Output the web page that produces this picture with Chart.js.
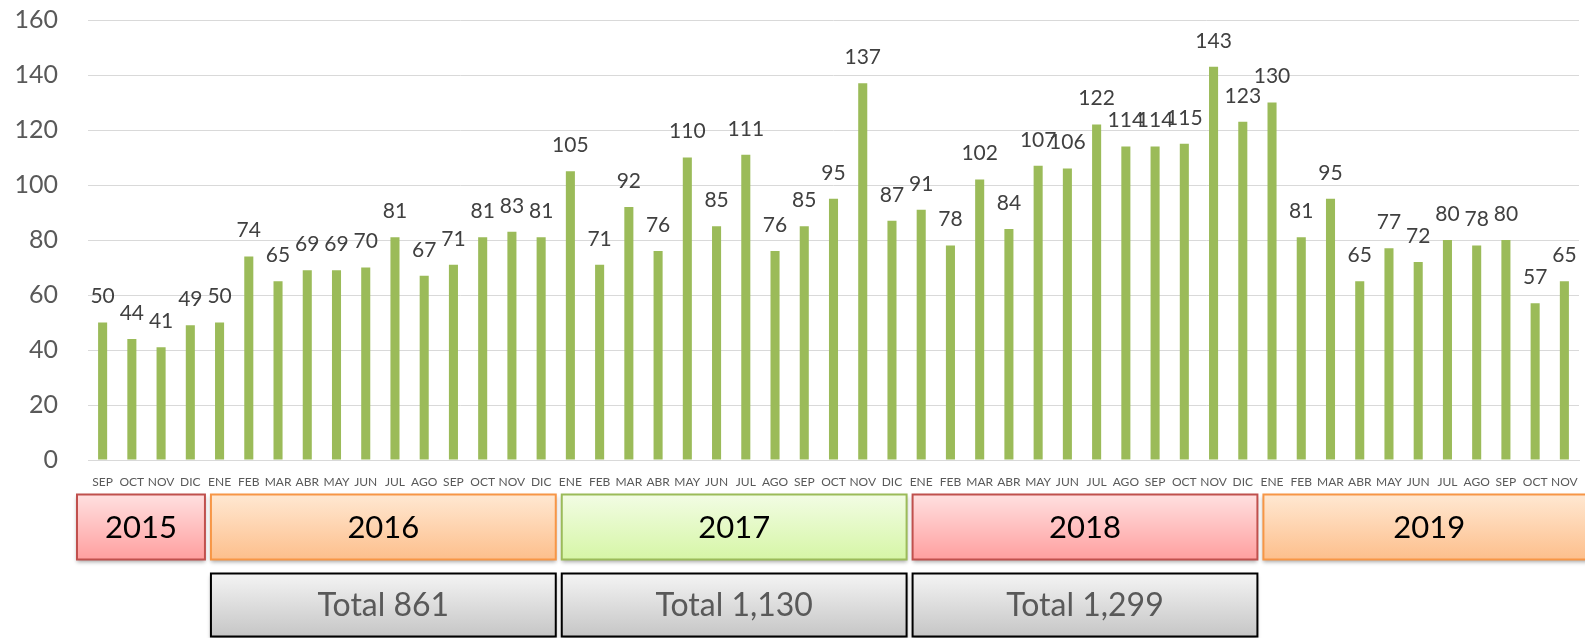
<!DOCTYPE html>
<html>
<head>
<meta charset="utf-8">
<script src="https://cdn.jsdelivr.net/npm/chart.js@4/dist/chart.umd.min.js"></script>
<style>
  html, body { margin: 0; padding: 0; background: #fff; }
  #wrap { width: 1585px; height: 638px; position: relative; }
</style>
</head>
<body>
<div id="wrap"><canvas id="chart" width="1585" height="638"></canvas></div>
<script>
  // month labels, Sep 2015 .. Nov 2019
  var months = [
    "SEP", "OCT", "NOV", "DIC",
    "ENE", "FEB", "MAR", "ABR", "MAY", "JUN", "JUL", "AGO", "SEP", "OCT", "NOV", "DIC",
    "ENE", "FEB", "MAR", "ABR", "MAY", "JUN", "JUL", "AGO", "SEP", "OCT", "NOV", "DIC",
    "ENE", "FEB", "MAR", "ABR", "MAY", "JUN", "JUL", "AGO", "SEP", "OCT", "NOV", "DIC",
    "ENE", "FEB", "MAR", "ABR", "MAY", "JUN", "JUL", "AGO", "SEP", "OCT", "NOV"
  ];
  var values = [
    50, 44, 41, 49,
    50, 74, 65, 69, 69, 70, 81, 67, 71, 81, 83, 81,
    105, 71, 92, 76, 110, 85, 111, 76, 85, 95, 137, 87,
    91, 78, 102, 84, 107, 106, 122, 114, 114, 115, 143, 123,
    130, 81, 95, 65, 77, 72, 80, 78, 80, 57, 65
  ];
  var yTicks = [0, 20, 40, 60, 80, 100, 120, 140, 160];
  var years = ["2015", "2016", "2017", "2018", "2019"];
  var monthsPerYear = [4, 12, 12, 12, 11];
  var yearTotals = [null, "Total 861", "Total 1,130", "Total 1,299", null];

  var FONT = "Lato, 'Open Sans', sans-serif";
  var GREEN = "#9bbb59";

  var YEAR_STYLE = [
    { top: "#ffe0e0", bottom: "#ff9f9f", border: "#c0504d" },
    { top: "#ffe8d2", bottom: "#fdbf8c", border: "#f79646" },
    { top: "#f2fce4", bottom: "#d6f6a6", border: "#9bbb59" },
    { top: "#ffe0e0", bottom: "#ff9f9f", border: "#c0504d" },
    { top: "#ffe8d2", bottom: "#fdbf8c", border: "#f79646" }
  ];

  var valueLabels = {
    id: "valueLabels",
    afterDatasetsDraw: function (chart) {
      var ctx = chart.ctx;
      var meta = chart.getDatasetMeta(0);
      ctx.save();
      ctx.font = "21px " + FONT;
      ctx.fillStyle = "#404040";
      ctx.textAlign = "center";
      ctx.textBaseline = "middle";
      meta.data.forEach(function (bar, i) {
        ctx.fillText(String(values[i]), bar.x, bar.y - 26);
      });
      ctx.restore();
    }
  };

  function drawBox(ctx, x0, x1, y0, y1, top, bottom, border, lw, text, textColor, font) {
    ctx.save();
    var g = ctx.createLinearGradient(0, y0, 0, y1);
    g.addColorStop(0, top);
    g.addColorStop(1, bottom);
    ctx.shadowColor = "rgba(0,0,0,0.35)";
    ctx.shadowBlur = 4;
    ctx.shadowOffsetY = 2;
    ctx.fillStyle = g;
    ctx.fillRect(x0, y0, x1 - x0, y1 - y0);
    ctx.shadowColor = "transparent";
    ctx.lineWidth = lw;
    ctx.strokeStyle = border;
    ctx.strokeRect(x0, y0, x1 - x0, y1 - y0);
    ctx.fillStyle = textColor;
    ctx.font = font;
    ctx.textAlign = "center";
    ctx.textBaseline = "middle";
    ctx.fillText(text, (x0 + x1) / 2, (y0 + y1) / 2 + 1);
    ctx.restore();
  }

  var yearBoxes = {
    id: "yearBoxes",
    afterDraw: function (chart) {
      var ctx = chart.ctx;
      var x = chart.scales.x;
      var half = (x.getPixelForValue(1) - x.getPixelForValue(0)) / 2;
      var start = 0;
      years.forEach(function (yr, k) {
        var end = start + monthsPerYear[k] - 1;
        var left = x.getPixelForValue(start) - half + 6;
        var right = x.getPixelForValue(end) + half;
        if (k === 0) left -= 17;
        if (k === years.length - 1) right = chart.width + 10;
        var st = YEAR_STYLE[k];
        drawBox(ctx, left, right, 494.5, 559.5, st.top, st.bottom, st.border, 2,
          yr, "#000", "31px " + FONT);
        if (yearTotals[k]) {
          drawBox(ctx, left, right, 573.5, 636.5, "#f4f4f4", "#c6c6c6", "#000", 2,
            yearTotals[k], "#595959", "32px " + FONT);
        }
        start = end + 1;
      });
    }
  };

  new Chart(document.getElementById("chart"), {
    type: "bar",
    data: {
      labels: months,
      datasets: [{
        data: values,
        backgroundColor: GREEN,
        barPercentage: 0.31,
        categoryPercentage: 1
      }]
    },
    options: {
      responsive: false,
      animation: false,
      layout: { padding: { top: 20, right: 6, left: 0, bottom: 0 } },
      plugins: { legend: { display: false }, tooltip: { enabled: false } },
      scales: {
        x: {
          grid: { display: false, drawTicks: false },
          border: { display: true, color: "#d9d9d9", width: 1 },
          ticks: {
            color: "#595959",
            font: { family: FONT, size: 12 },
            maxRotation: 0,
            autoSkip: false,
            padding: 15
          },
          afterFit: function (s) { s.height = 178; s.paddingLeft = 0; s.paddingRight = 0; }
        },
        y: {
          min: 0,
          max: 160,
          afterBuildTicks: function (s) {
            s.ticks = yTicks.map(function (v) { return { value: v }; });
          },
          grid: { color: "#d9d9d9", lineWidth: 1, drawTicks: false },
          border: { display: false },
          ticks: {
            color: "#595959",
            font: { family: FONT, size: 25 },
            padding: 30
          },
          afterFit: function (s) { s.width = 88; s.paddingTop = 0; s.paddingBottom = 0; }
        }
      }
    },
    plugins: [valueLabels, yearBoxes]
  });
</script>
</body>
</html>
